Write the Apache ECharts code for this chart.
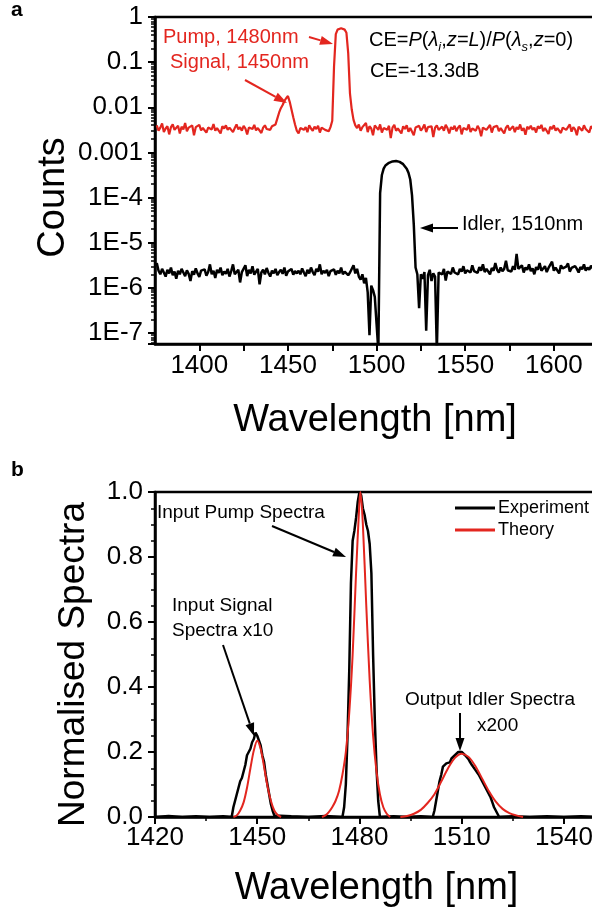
<!DOCTYPE html>
<html>
<head>
<meta charset="utf-8">
<script src="https://cdn.jsdelivr.net/npm/echarts@6/dist/echarts.min.js"></script>
<style>
html,body{margin:0;padding:0;background:#fff;}
#chart{width:592px;height:910px;}
</style>
</head>
<body>
<div id="chart"></div>
<script>
// ---------- Panel a: spectra on log scale, 1-nm samples starting at 1376 nm ----------
const topStartWl = 1376;
// red: pump + signal, log10(counts)
const pumpSignalLog = [
-2.40,-2.52,-2.45,-2.36,-2.55,-2.47,-2.42,-2.60,-2.44,-2.38,
-2.50,-2.46,-2.41,-2.58,-2.43,-2.49,-2.35,-2.53,-2.45,-2.48,
-2.40,-2.62,-2.44,-2.47,-2.39,-2.51,-2.46,-2.43,-2.56,-2.45,
-2.41,-2.49,-2.37,-2.52,-2.46,-2.44,-2.58,-2.42,-2.47,-2.40,
-2.50,-2.45,-2.43,-2.55,-2.46,-2.38,-2.49,-2.44,-2.52,-2.41,
-2.47,-2.60,-2.45,-2.42,-2.48,-2.39,-2.51,-2.46,-2.43,-2.57,
-2.45,-2.40,-2.48,-2.44,-2.50,-2.42,-2.46,-2.38,-2.25,-2.12,
-2.02,-1.95,-1.86,-1.80,-1.75,-1.88,-2.05,-2.22,-2.38,-2.52,
-2.58,-2.46,-2.42,-2.50,-2.44,-2.55,-2.40,-2.47,-2.52,-2.43,
-2.48,-2.41,-2.56,-2.45,-2.42,-2.50,-2.46,-2.53,-2.44,-2.30,
-1.10,-0.38,-0.28,-0.26,-0.25,-0.26,-0.28,-0.35,-0.80,-1.70,
-2.05,-2.28,-2.40,-2.46,-2.38,-2.52,-2.44,-2.48,-2.35,-2.55,
-2.42,-2.47,-2.62,-2.40,-2.45,-2.50,-2.38,-2.56,-2.46,-2.43,
-2.50,-2.41,-2.68,-2.45,-2.39,-2.52,-2.47,-2.44,-2.58,-2.42,
-2.48,-2.40,-2.54,-2.46,-2.43,-2.62,-2.45,-2.49,-2.41,-2.52,
-2.46,-2.38,-2.55,-2.44,-2.48,-2.42,-2.66,-2.45,-2.40,-2.50,
-2.47,-2.43,-2.52,-2.39,-2.46,-2.58,-2.44,-2.49,-2.41,-2.53,
-2.45,-2.40,-2.60,-2.46,-2.43,-2.50,-2.38,-2.55,-2.47,-2.44,
-2.52,-2.41,-2.48,-2.64,-2.45,-2.42,-2.50,-2.46,-2.39,-2.56,
-2.44,-2.48,-2.41,-2.53,-2.46,-2.43,-2.58,-2.45,-2.40,-2.51,
-2.47,-2.42,-2.55,-2.44,-2.49,-2.38,-2.52,-2.46,-2.61,-2.43,
-2.48,-2.41,-2.50,-2.45,-2.56,-2.42,-2.47,-2.39,-2.53,-2.46,
-2.44,-2.59,-2.43,-2.48,-2.40,-2.52,-2.46,-2.42,-2.57,-2.45,
-2.41,-2.50,-2.47,-2.38,-2.54,-2.44,-2.49,-2.62,-2.43,-2.46,
-2.52,-2.40,-2.48,-2.45,-2.56,-2.42,-2.47,-2.44,-2.51,-2.39,
-2.46,-2.53,-2.43,-2.48,-2.45
];
// black: idler, log10(counts)
const idlerLog = [
-5.45,-5.62,-5.70,-5.58,-5.66,-5.75,-5.60,-5.68,-5.55,-5.72,
-5.64,-5.80,-5.62,-5.70,-5.58,-5.66,-5.74,-5.61,-5.69,-5.85,
-5.63,-5.71,-5.57,-5.68,-5.76,-5.62,-5.66,-5.59,-5.73,-5.65,
-5.48,-5.70,-5.62,-5.78,-5.60,-5.67,-5.55,-5.72,-5.64,-5.69,
-5.58,-5.75,-5.63,-5.48,-5.70,-5.66,-5.60,-5.88,-5.65,-5.62,
-5.50,-5.74,-5.60,-5.68,-5.52,-5.71,-5.64,-5.58,-5.92,-5.66,
-5.60,-5.70,-5.56,-5.67,-5.75,-5.62,-5.68,-5.58,-5.72,-5.65,
-5.60,-5.69,-5.55,-5.73,-5.64,-5.66,-5.58,-5.71,-5.63,-5.68,
-5.62,-5.70,-5.57,-5.66,-5.74,-5.60,-5.68,-5.55,-5.65,-5.72,
-5.58,-5.64,-5.48,-5.70,-5.62,-5.67,-5.60,-5.74,-5.63,-5.66,
-5.59,-5.71,-5.62,-5.68,-5.55,-5.70,-5.64,-5.60,-5.72,-5.66,
-5.62,-5.50,-5.68,-5.58,-5.75,-5.82,-5.70,-5.90,-5.78,-6.10,
-7.05,-5.95,-6.05,-6.20,-6.80,-7.40,-3.90,-3.50,-3.36,-3.29,
-3.25,-3.23,-3.21,-3.20,-3.19,-3.19,-3.20,-3.21,-3.23,-3.26,
-3.30,-3.36,-3.45,-3.60,-3.95,-4.60,-5.55,-5.70,-6.45,-5.70,
-5.80,-5.65,-6.95,-5.72,-5.60,-5.85,-5.68,-5.75,-7.40,-5.66,
-5.62,-5.70,-5.58,-5.84,-5.64,-5.60,-5.69,-5.55,-5.66,-5.62,
-5.70,-5.58,-5.64,-5.52,-5.68,-5.61,-5.57,-5.66,-5.50,-5.63,
-5.60,-5.67,-5.54,-5.62,-5.48,-5.65,-5.58,-5.61,-5.70,-5.56,
-5.62,-5.45,-5.60,-5.66,-5.55,-5.63,-5.58,-5.40,-5.61,-5.57,
-5.64,-5.52,-5.60,-5.25,-5.58,-5.62,-5.50,-5.66,-5.55,-5.60,
-5.48,-5.63,-5.57,-5.70,-5.54,-5.60,-5.45,-5.62,-5.58,-5.52,
-5.65,-5.56,-5.60,-5.42,-5.62,-5.55,-5.59,-5.68,-5.50,-5.57,
-5.61,-5.53,-5.46,-5.64,-5.56,-5.60,-5.52,-5.58,-5.66,-5.54,
-5.59,-5.48,-5.62,-5.55,-5.60,-5.51,-5.57,-5.63,-5.50,-5.56,
-5.58,-5.52,-5.60,-5.54,-5.57
];
const topYTickLabels = ['1','0.1','0.01','0.001','1E-4','1E-5','1E-6','1E-7'];
const topXTickLabels = [1400,1450,1500,1550,1600];

// ---------- Panel b: normalised spectra, [wavelength nm, value] ----------
const experiment = [
[1420,0],[1424,0.003],[1428,0],[1432,0.002],[1436,0],[1440,0.002],[1442.5,0],
[1443,0.03],[1443.5,0.05],[1444,0.07],[1444.5,0.09],[1445,0.11],[1445.5,0.12],[1446,0.14],
[1446.5,0.16],[1447,0.19],[1447.5,0.2],[1448,0.21],[1448.5,0.23],[1449,0.24],[1449.5,0.26],
[1450,0.25],[1450.5,0.25],[1451,0.22],[1451.5,0.19],[1452,0.17],[1452.5,0.13],[1453,0.1],
[1453.5,0.07],[1454,0.04],[1454.5,0.02],[1455,0.005],[1455.5,0],
[1460,0.002],[1465,0],[1470,0.003],[1475,0],
[1475.5,0.03],[1476,0.1],[1476.5,0.25],[1477,0.45],[1477.5,0.72],[1478,0.85],[1478.5,0.88],
[1479,0.92],[1479.5,0.97],[1480,1.0],[1480.5,0.99],[1481,0.95],[1481.5,0.93],[1482,0.9],
[1482.5,0.88],[1483,0.84],[1483.5,0.75],[1484,0.5],[1484.5,0.3],[1485,0.15],[1485.5,0.05],[1486,0],
[1490,0.002],[1494,0],[1498,0.002],[1501.5,0],
[1502,0.02],[1502.5,0.05],[1503,0.08],[1503.5,0.11],[1504,0.13],[1504.5,0.155],[1505,0.15],
[1505.5,0.165],[1506,0.17],[1506.5,0.168],[1507,0.18],[1507.5,0.185],[1508,0.19],[1508.5,0.195],
[1509,0.2],[1509.5,0.205],[1510,0.2],[1510.5,0.198],[1511,0.19],[1511.5,0.185],[1512,0.178],
[1512.5,0.168],[1513,0.16],[1513.5,0.155],[1514,0.145],[1514.5,0.14],[1515,0.13],[1515.5,0.125],
[1516,0.11],[1516.5,0.105],[1517,0.09],[1517.5,0.08],[1518,0.07],[1518.5,0.06],[1519,0.045],
[1519.5,0.03],[1520,0.02],[1520.5,0.01],[1521,0],
[1525,0.002],[1530,0],[1535,0.002],[1540,0],[1545,0.002],[1550,0]
];
const theorySignal = [
[1443,0],[1444,0.005],[1445,0.02],[1446,0.045],[1447,0.09],[1448,0.15],[1449,0.205],
[1450,0.235],[1451,0.21],[1452,0.155],[1453,0.095],[1454,0.05],[1455,0.02],[1456,0.006],[1457,0]
];
const theoryPump = [
[1469,0],[1470,0.005],[1471,0.015],[1472,0.03],[1473,0.05],[1474,0.08],[1475,0.13],[1476,0.2],
[1477,0.32],[1478,0.5],[1479,0.75],[1480,0.97],[1480.3,1.0],[1481,0.9],[1482,0.65],[1483,0.42],
[1484,0.25],[1485,0.14],[1486,0.07],[1487,0.03],[1488,0.01],[1489,0]
];
const theoryIdler = [
[1492,0],[1494,0.003],[1496,0.01],[1498,0.022],[1500,0.043],[1502,0.07],[1504,0.109],[1506,0.15],
[1508,0.182],[1510,0.195],[1512,0.185],[1514,0.157],[1516,0.118],[1518,0.079],[1520,0.047],
[1522,0.025],[1524,0.012],[1526,0.005],[1528,0]
];
const bottomXMin = 1420;

// ---------- styling ----------
const F = '"Liberation Sans", Arial, Helvetica, sans-serif';
const RED = '#e3261f';
const BLACK = '#000';

const chart = echarts.init(document.getElementById('chart'), null, {renderer: 'canvas'});

const redTop = pumpSignalLog.map((v, i) => [topStartWl + i, Math.pow(10, v)]);
const blackTop = idlerLog.map((v, i) => [topStartWl + i, Math.pow(10, v)]);
const shift = arr => arr.map(p => [p[0] - bottomXMin, p[1]]);

function arrow(x1, y1, x2, y2, color) {
  const a = Math.atan2(y2 - y1, x2 - x1), L = 13, W = 4.5;
  const bx = x2 - L * Math.cos(a), by = y2 - L * Math.sin(a);
  return [
    {type: 'line', shape: {x1: x1, y1: y1, x2: bx, y2: by}, style: {stroke: color, lineWidth: 2}},
    {type: 'polygon', shape: {points: [[x2, y2], [bx + W * Math.sin(a), by - W * Math.cos(a)], [bx - W * Math.sin(a), by + W * Math.cos(a)]]}, style: {fill: color}}
  ];
}
function txt(x, y, text, size, color, weight) {
  return {type: 'text', x: x, y: y, style: {text: text, fontSize: size, fontWeight: weight || 'normal', fontFamily: F, fill: color, align: 'left', verticalAlign: 'middle'}};
}

const axisCommon = {
  axisLine: {show: true, onZero: false, lineStyle: {color: BLACK, width: 2.5}},
  axisTick: {show: true, inside: false, length: 7, lineStyle: {color: BLACK, width: 2}},
  minorTick: {show: true, length: 4, lineStyle: {color: BLACK, width: 1.5}},
  splitLine: {show: false},
  minorSplitLine: {show: false},
  axisLabel: {color: BLACK, fontSize: 26, fontFamily: F}
};

const option = {
  animation: false,
  backgroundColor: '#fff',
  grid: [
    {left: 155, top: 17, width: 452, height: 327, outerBoundsMode: 'none', containLabel: false,
      show: true, borderColor: BLACK, borderWidth: 2.5, backgroundColor: 'transparent'},
    {left: 155, top: 492, width: 443, height: 325, outerBoundsMode: 'none', containLabel: false,
      show: true, borderColor: BLACK, borderWidth: 2.5, backgroundColor: 'transparent'}
  ],
  xAxis: [
    Object.assign({}, axisCommon, {
      type: 'value', gridIndex: 0, min: 1375, max: 1630, interval: 25,
      minorTick: {show: false},
      axisLabel: Object.assign({}, axisCommon.axisLabel, {margin: 9, showMinLabel: false, showMaxLabel: false,
        formatter: v => topXTickLabels.indexOf(v) >= 0 ? String(v) : ''}),
      name: 'Wavelength [nm]', nameLocation: 'middle', nameGap: 58,
      nameTextStyle: {fontSize: 38, fontFamily: F, color: BLACK, padding: [0, 12, 0, 0]}
    }),
    Object.assign({}, axisCommon, {
      type: 'value', gridIndex: 1, min: 0, max: 130, interval: 30,
      minorTick: Object.assign({}, axisCommon.minorTick, {splitNumber: 2}),
      axisLabel: Object.assign({}, axisCommon.axisLabel, {margin: 8, showMaxLabel: false,
        formatter: v => String(bottomXMin + v)}),
      name: 'Wavelength [nm]', nameLocation: 'middle', nameGap: 53,
      nameTextStyle: {fontSize: 38, fontFamily: F, color: BLACK}
    })
  ],
  yAxis: [
    Object.assign({}, axisCommon, {
      type: 'log', logBase: 10, gridIndex: 0, min: Math.pow(10, -7.244), max: 1,
      minorTick: Object.assign({}, axisCommon.minorTick, {splitNumber: 9}),
      axisLabel: Object.assign({}, axisCommon.axisLabel, {margin: 12, showMinLabel: false,
        formatter: v => {
          const e = Math.log10(v), r = Math.round(e);
          if (Math.abs(e - r) > 1e-4) return '';
          return topYTickLabels[-r] || '';
        }}),
      name: 'Counts', nameLocation: 'middle', nameGap: 82, nameMoveOverlap: false,
      nameTextStyle: {fontSize: 38, fontFamily: F, color: BLACK, padding: [0, 34, 0, 0]}
    }),
    Object.assign({}, axisCommon, {
      type: 'value', gridIndex: 1, min: 0, max: 1, interval: 0.2,
      minorTick: Object.assign({}, axisCommon.minorTick, {splitNumber: 4}),
      axisLabel: Object.assign({}, axisCommon.axisLabel, {margin: 12, formatter: v => v.toFixed(1)}),
      name: 'Normalised Spectra', nameLocation: 'middle', nameGap: 63, nameMoveOverlap: false,
      nameTextStyle: {fontSize: 37, fontFamily: F, color: BLACK, padding: [0, 20, 0, 0]}
    })
  ],
  legend: {
    data: ['Experiment', 'Theory'], orient: 'vertical', left: 455, top: 499, padding: 0,
    icon: 'rect', itemWidth: 40, itemHeight: 3, itemGap: 4,
    textStyle: {fontSize: 18, fontFamily: F, color: BLACK, padding: [0, 0, 0, -2]}
  },
  series: [
    {type: 'line', xAxisIndex: 0, yAxisIndex: 0, data: redTop, symbol: 'none', showSymbol: false,
      lineStyle: {color: RED, width: 2.2}, itemStyle: {color: RED}, z: 2},
    {type: 'line', xAxisIndex: 0, yAxisIndex: 0, data: blackTop, symbol: 'none', showSymbol: false,
      lineStyle: {color: BLACK, width: 2.5}, itemStyle: {color: BLACK}, z: 3},
    {name: 'Experiment', type: 'line', xAxisIndex: 1, yAxisIndex: 1, data: shift(experiment), symbol: 'none', showSymbol: false,
      lineStyle: {color: BLACK, width: 2.5}, itemStyle: {color: BLACK}, z: 2},
    {name: 'Theory', type: 'line', xAxisIndex: 1, yAxisIndex: 1, data: shift(theorySignal), symbol: 'none', showSymbol: false, smooth: 0.3,
      lineStyle: {color: RED, width: 2}, itemStyle: {color: RED}, z: 3},
    {name: 'Theory', type: 'line', xAxisIndex: 1, yAxisIndex: 1, data: shift(theoryPump), symbol: 'none', showSymbol: false, smooth: 0.3,
      lineStyle: {color: RED, width: 2}, itemStyle: {color: RED}, z: 3},
    {name: 'Theory', type: 'line', xAxisIndex: 1, yAxisIndex: 1, data: shift(theoryIdler), symbol: 'none', showSymbol: false, smooth: 0.3,
      lineStyle: {color: RED, width: 2}, itemStyle: {color: RED}, z: 3}
  ],
  graphic: [].concat(
    [txt(11, 10, 'a', 21, BLACK, 'bold')],
    [txt(11, 470, 'b', 21, BLACK, 'bold')],
    [txt(163, 37, 'Pump, 1480nm', 20, RED)],
    [txt(170, 62, 'Signal, 1450nm', 20, RED)],
    arrow(309, 37, 333, 44, RED),
    arrow(245, 80, 287, 103, RED),
    [{type: 'text', x: 369, y: 26, style: {
      text: '{n|CE=}{i|P}{n|(}{i|λ}{sub|i}{n|,}{i|z=L}{n|)/}{i|P}{n|(}{i|λ}{sub|s}{n|,}{i|z}{n|=0)}',
      fontFamily: F, fill: BLACK, align: 'left', verticalAlign: 'top',
      rich: {
        n: {fontSize: 20, fontFamily: F, fill: BLACK, lineHeight: 28},
        i: {fontSize: 20, fontFamily: F, fill: BLACK, fontStyle: 'italic', lineHeight: 28},
        sub: {fontSize: 13, fontFamily: F, fill: BLACK, fontStyle: 'italic', lineHeight: 14, verticalAlign: 'bottom'}
      }}}],
    [txt(370, 71, 'CE=-13.3dB', 20, BLACK)],
    [txt(462, 224, 'Idler, 1510nm', 20, BLACK)],
    arrow(458, 228, 420, 228, BLACK),
    [txt(157, 513, 'Input Pump Spectra', 19, BLACK)],
    arrow(272, 526, 346, 557, BLACK),
    [txt(172, 606, 'Input Signal', 19, BLACK)],
    [txt(172, 631, 'Spectra x10', 19, BLACK)],
    arrow(223, 645, 254, 736, BLACK),
    [txt(405, 700, 'Output Idler Spectra', 19, BLACK)],
    [txt(477, 726, 'x200', 19, BLACK)],
    arrow(460, 713, 460, 751, BLACK)
  )
};
chart.setOption(option);
</script>
</body>
</html>
